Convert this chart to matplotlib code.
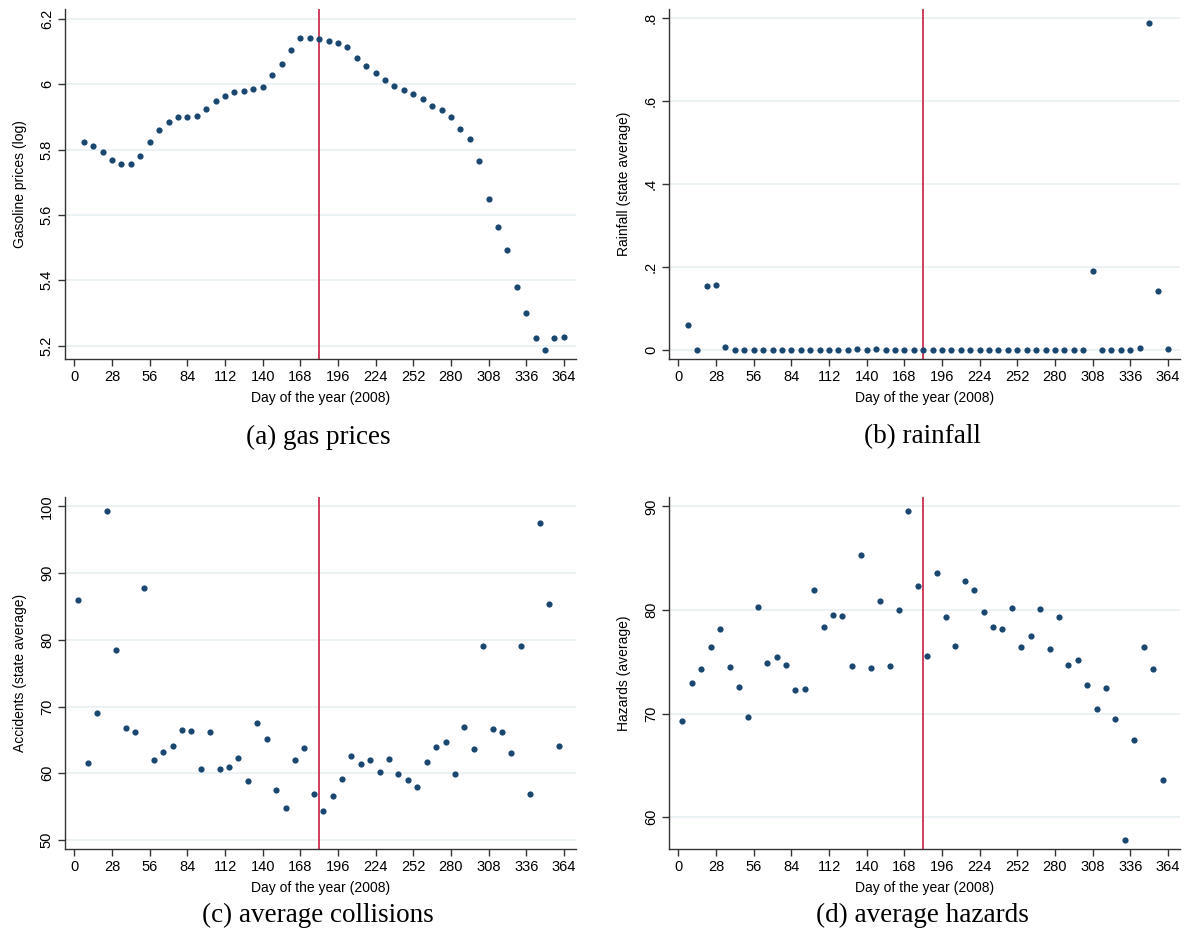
import numpy as np
import matplotlib
matplotlib.use("Agg")
import matplotlib.pyplot as plt

# weekly observations
days_a = np.arange(7, 365, 7)   # gas prices, rainfall
days_c = np.arange(3, 361, 7)   # collisions, hazards
cutoff = 182

gas = [5.823, 5.811, 5.792, 5.768, 5.755, 5.755, 5.781, 5.823, 5.860, 5.883,
       5.901, 5.901, 5.903, 5.923, 5.948, 5.965, 5.977, 5.979, 5.984, 5.991,
       6.028, 6.063, 6.105, 6.140, 6.140, 6.138, 6.132, 6.126, 6.113, 6.080,
       6.055, 6.033, 6.014, 5.995, 5.981, 5.969, 5.955, 5.934, 5.920, 5.901,
       5.864, 5.832, 5.764, 5.649, 5.563, 5.492, 5.378, 5.301, 5.223, 5.186,
       5.223, 5.225]

rain = [0.062, 0.001, 0.155, 0.158, 0.007, 0.0, 0.0, 0.001, 0.0, 0.0,
        0.0, 0.0, 0.0, 0.0, 0.0, 0.0, 0.0, 0.0, 0.002, 0.0,
        0.003, 0.0, 0.0, 0.0, 0.0, 0.0, 0.0, 0.0, 0.0, 0.0,
        0.0, 0.0, 0.0, 0.0, 0.0, 0.0, 0.0, 0.0, 0.001, 0.0,
        0.0, 0.0, 0.0, 0.190, 0.0, 0.0, 0.0, 0.001, 0.006, 0.789,
        0.143, 0.004]

accidents = [85.92, 61.57, 68.99, 99.25, 78.46, 66.73, 66.13, 87.83, 62.02, 63.23,
             64.08, 66.43, 66.28, 60.62, 66.18, 60.67, 60.97, 62.32, 58.87, 67.54,
             65.08, 57.52, 54.86, 61.92, 63.73, 56.86, 54.41, 56.61, 59.12, 62.63,
             61.32, 62.02, 60.17, 62.12, 59.87, 59.02, 57.87, 61.72, 63.88, 64.73,
             59.92, 66.88, 63.63, 79.01, 66.63, 66.13, 62.98, 79.11, 56.91, 97.50,
             85.32, 64.03]

hazards = [69.26, 72.94, 74.32, 76.45, 78.19, 74.48, 72.58, 69.68, 80.29, 74.84,
           75.42, 74.65, 72.26, 72.39, 81.97, 78.35, 79.48, 79.45, 74.55, 85.32,
           74.45, 80.84, 74.58, 79.97, 89.55, 82.32, 75.55, 83.58, 79.29, 76.55,
           82.81, 81.94, 79.81, 78.39, 78.13, 80.23, 76.45, 77.52, 80.10, 76.26,
           79.29, 74.65, 75.13, 72.77, 70.42, 72.45, 69.45, 57.81, 67.48, 76.42,
           74.35, 63.58]

xticks = np.arange(0, 365, 28)

W, H = 1186, 944
fig = plt.figure(figsize=(W / 100, H / 100), dpi=100)
plt.rcParams['font.family'] = ['Liberation Sans', 'DejaVu Sans']

navy = '#1a476f'
red = '#cc3050'
grid_c = '#e8f0f2'


def panel(rect, x, y, ylabel, yticks, ytlabels, ylim, caption, cap_xy):
    ax = fig.add_axes(rect)
    ax.scatter(x, y, s=20, color=navy, zorder=3, linewidths=0)
    ax.axvline(cutoff, color=red, lw=1.3, zorder=2)
    ax.set_xlim(-7, 373)
    ax.set_ylim(*ylim)
    ax.set_xticks(xticks)
    ax.set_yticks(yticks)
    ax.set_yticklabels(ytlabels, rotation=90, va='center')
    ax.tick_params(labelsize=10.5, length=5, width=1, color='#333333', pad=3)
    ax.grid(axis='y', color=grid_c, lw=1.2, zorder=0)
    ax.set_axisbelow(True)
    for s in ['top', 'right']:
        ax.spines[s].set_visible(False)
    for s in ['left', 'bottom']:
        ax.spines[s].set_color('#333333')
        ax.spines[s].set_linewidth(1)
    ax.set_xlabel('Day of the year (2008)', fontsize=10, labelpad=5)
    ax.set_ylabel(ylabel, fontsize=10, labelpad=9)
    fig.text(cap_xy[0] / W, 1 - cap_xy[1] / H, caption, ha='center', va='center',
             fontsize=19.5, family=['Liberation Serif', 'DejaVu Serif'])
    return ax


top_y = (H - 359) / H
bot_y = (H - 849) / H
hgt = 350 / H
wid = 511 / W
left_a = 65 / W
left_b = 669 / W

panel([left_a, top_y, wid, hgt], days_a, gas, 'Gasoline prices (log)',
      [5.2, 5.4, 5.6, 5.8, 6.0, 6.2], ['5.2', '5.4', '5.6', '5.8', '6', '6.2'],
      (5.159, 6.23), '(a) gas prices', (318, 437))
panel([left_b, top_y, wid, hgt], days_a, rain, 'Rainfall (state average)',
      [0, 0.2, 0.4, 0.6, 0.8], ['0', '.2', '.4', '.6', '.8'],
      (-0.021, 0.822), '(b) rainfall', (922, 437))
panel([left_a, bot_y, wid, 352 / H], days_c, accidents, 'Accidents (state average)',
      [50, 60, 70, 80, 90, 100], ['50', '60', '70', '80', '90', '100'],
      (48.65, 101.4), '(c) average collisions', (318, 915))
panel([left_b, bot_y, wid, 352 / H], days_c, hazards, 'Hazards (average)',
      [60, 70, 80, 90], ['60', '70', '80', '90'],
      (56.94, 90.9), '(d) average hazards', (922, 915))

fig.savefig('out.png', dpi=100)
